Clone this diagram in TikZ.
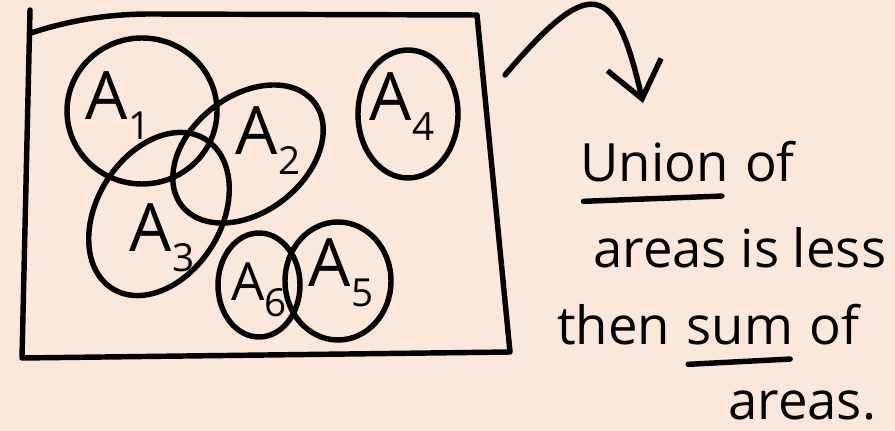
\documentclass[tikz,border=0pt]{standalone}
\usepackage{fontspec}
\setmainfont{Open Sans}
\usetikzlibrary{arrows.meta,positioning}
\definecolor{paper}{RGB}{252,232,218}
\newcommand\lowidx[1]{\raisebox{-0.3em}{\fontsize{22}{22}\selectfont #1}}

\begin{document}
\begin{tikzpicture}[
  x=0.02cm, y=-0.02cm,
  ink/.style={line width=3.1pt, line cap=round, line join=round},
  area/.style={ink},
  lbl/.style={font=\fontsize{38}{38}\selectfont, inner sep=0pt},
  small lbl/.style={lbl, font=\fontsize{30}{30}\selectfont},
  txt/.style={font=\fontsize{30}{30}\selectfont, inner sep=0pt},
]
  \fill[paper] (0,0) rectangle (895,431);
  \useasboundingbox (0,0) rectangle (895,431);

  % The frame round all areas
  \draw[ink] (31,33) .. controls (70,20) and (110,14) .. (150,14)
    -- (477,15) -- (510,352) -- (22,358) -- (30,10);

  % The areas
  \draw[area] (142,111) ellipse [x radius=75, y radius=73];
  \draw[area, rotate around={38:(248,154)}] (248,154)
    ellipse [x radius=84, y radius=58];
  \draw[area, rotate around={58:(159,214)}] (159,214)
    ellipse [x radius=88, y radius=62];
  \draw[area] (408,114) ellipse [x radius=50, y radius=64];
  \draw[area] (259,285) ellipse [x radius=41, y radius=52];
  \draw[area] (338,281) ellipse [x radius=53, y radius=59];

  \node[lbl] (a1) at (118,106) {A\lowidx{1}};
  \node[lbl] (a2) at (268,141) {A\lowidx{2}};
  \node[lbl] (a3) at (162,238) {A\lowidx{3}};
  \node[lbl] (a4) at (402,107) {A\lowidx{4}};
  \node[small lbl] (a6) at (259,290) {A\lowidx{6}};
  \node[lbl] (a5) at (341,273) {A\lowidx{5}};

  % The remark
  \node[txt, anchor=base west] (union) at (580,182) {Union};
  \node[txt, base right=9pt of union] (of1) {of};
  \node[txt, anchor=base west] (areas) at (593,268) {areas is less};
  \node[txt, anchor=base west] (then) at (557,345) {then};
  \node[txt, base right=9pt of then] (sum) {sum};
  \node[txt, base right=9pt of sum] (of2) {of};
  \node[txt, anchor=base west] (last) at (728,420) {areas.};

  \draw[ink] ([shift={(2pt,-11pt)}]union.base west)
    -- ([shift={(-4pt,-8pt)}]union.base east);
  \draw[ink] ([shift={(1pt,-11pt)}]sum.base west)
    -- ([shift={(-2pt,-8pt)}]sum.base east);

  % Arrow from the frame to the remark
  \coordinate (arrowstart) at (505,75);
  \coordinate (arrowend) at (643,103);
  \draw[ink, -{Straight Barb[length=7mm, width=11mm]}] (arrowstart)
    .. controls (590,-25) and (615,-20) .. (arrowend);
\end{tikzpicture}
\end{document}
